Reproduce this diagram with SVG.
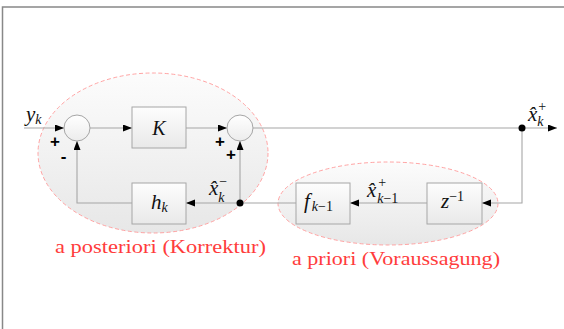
<svg xmlns="http://www.w3.org/2000/svg" width="564" height="329" viewBox="0 0 564 329">
  <style>
    .frame { fill: none; stroke: #888; stroke-width: 1.5; }
    .region { stroke: #ff9a9a; stroke-width: 0.9; stroke-dasharray: 4 2.5; }
    .wire { fill: none; stroke: #a6a6a6; stroke-width: 1.1; }
    .box { fill: url(#boxFill); stroke: #a6a6a6; stroke-width: 1; }
    .sum { fill: url(#sumFill); stroke: #a6a6a6; stroke-width: 1; }
    .dot { fill: #000; }
    .math { font-family: 'Liberation Serif', 'Times New Roman', serif; font-style: italic; fill: #111; }
    .up { font-style: normal; }
    .sign { font-family: 'Liberation Sans', Arial, sans-serif; font-weight: bold; font-size: 17px; fill: #000; text-anchor: middle; }
    .caption { font-family: 'Liberation Serif', 'Times New Roman', serif; font-size: 18px; fill: #ff3c3c; }
  </style>
  <defs>
    <linearGradient id="boxFill" x1="0" y1="0" x2="0" y2="1">
      <stop offset="0" stop-color="#fdfdfd"/>
      <stop offset="1" stop-color="#e9e9e9"/>
    </linearGradient>
    <linearGradient id="sumFill" x1="0" y1="0" x2="0" y2="1">
      <stop offset="0" stop-color="#ffffff"/>
      <stop offset="1" stop-color="#ececec"/>
    </linearGradient>
    <linearGradient id="regionFill" x1="0" y1="0" x2="0" y2="1">
      <stop offset="0" stop-color="#fcfcfc"/>
      <stop offset="1" stop-color="#e7e7e7"/>
    </linearGradient>
    <marker id="arrow" markerUnits="userSpaceOnUse" markerWidth="10" markerHeight="8" refX="9" refY="3.5" orient="auto">
      <path d="M0,0 L9,3.5 L0,7 z" fill="#000"/>
    </marker>
  </defs>

  <!-- page frame -->
  <path class="frame" d="M2.5,329 V7 H564"/>

  <!-- grouping regions -->
  <g id="region-posteriori">
    <ellipse class="region" cx="153" cy="153" rx="115" ry="80" fill="url(#regionFill)"/>
    <text class="caption" x="55" y="253" textLength="211" lengthAdjust="spacingAndGlyphs">a posteriori (Korrektur)</text>
  </g>
  <g id="region-priori">
    <ellipse class="region" cx="388" cy="203.5" rx="110" ry="41.5" fill="url(#regionFill)"/>
    <text class="caption" x="292" y="265" textLength="208" lengthAdjust="spacingAndGlyphs">a priori (Voraussagung)</text>
  </g>

  <!-- connectors -->
  <g id="connectors">
    <path class="wire" d="M24,128 H64" marker-end="url(#arrow)"/>
    <path class="wire" d="M90,128 H132" marker-end="url(#arrow)"/>
    <path class="wire" d="M186,128 H227" marker-end="url(#arrow)"/>
    <path class="wire" d="M253,128 H557" marker-end="url(#arrow)"/>
    <path class="wire" d="M522,128 V203 H482" marker-end="url(#arrow)"/>
    <path class="wire" d="M427,203 H350" marker-end="url(#arrow)"/>
    <path class="wire" d="M296,203 H240"/>
    <path class="wire" d="M240,203 H186" marker-end="url(#arrow)"/>
    <path class="wire" d="M132,203 H77 V141" marker-end="url(#arrow)"/>
    <path class="wire" d="M240,203 V141" marker-end="url(#arrow)"/>
    <circle class="dot" cx="240" cy="203" r="3.5"/>
    <circle class="dot" cx="522" cy="128" r="3.5"/>
  </g>

  <!-- signal labels: x with hat, superscript, subscript -->
  <g id="labels">
    <text class="math" x="26" y="121" font-size="21">y<tspan font-size="14" dy="3">k</tspan></text>

    <text class="math" x="209" y="195" font-size="21">x&#770;<tspan font-size="14" class="up" dx="1" dy="-9">−</tspan><tspan font-size="14" dx="-9" dy="16">k</tspan></text>

    <text class="math" x="528" y="121" font-size="21">x&#770;<tspan font-size="14" class="up" dx="1" dy="-10">+</tspan><tspan font-size="14" dx="-9" dy="15">k</tspan></text>

    <text class="math" x="367" y="197" font-size="21">x&#770;<tspan font-size="14" class="up" dx="2" dy="-10">+</tspan><tspan font-size="14" dx="-9" dy="16">k</tspan><tspan font-size="14" class="up">−1</tspan></text>

    <text class="sign" x="55" y="147">+</text>
    <text class="sign" x="63.5" y="162">-</text>
    <text class="sign" x="220" y="147">+</text>
    <text class="sign" x="231" y="160">+</text>
  </g>

  <!-- summing junctions -->
  <g id="sum-correction">
    <circle class="sum" cx="77" cy="128" r="13"/>
  </g>
  <g id="sum-update">
    <circle class="sum" cx="240" cy="128" r="13"/>
  </g>

  <!-- blocks -->
  <g id="gain-K">
    <rect class="box" x="132" y="107" width="54" height="41"/>
    <text class="math" x="159" y="135" font-size="20" text-anchor="middle">K</text>
  </g>
  <g id="measurement-h">
    <rect class="box" x="132" y="183" width="54" height="41"/>
    <text class="math" x="151" y="209" font-size="21">h<tspan font-size="14" dy="3">k</tspan></text>
  </g>
  <g id="transition-f">
    <rect class="box" x="296" y="183" width="54" height="41"/>
    <text class="math" x="304" y="208" font-size="21">f<tspan font-size="14" dx="2" dy="3">k</tspan><tspan font-size="14" class="up">−1</tspan></text>
  </g>
  <g id="delay-z">
    <rect class="box" x="427" y="183" width="55" height="41"/>
    <text class="math" x="441" y="208" font-size="21">z<tspan font-size="14" dy="-7" class="up">−1</tspan></text>
  </g>
</svg>
